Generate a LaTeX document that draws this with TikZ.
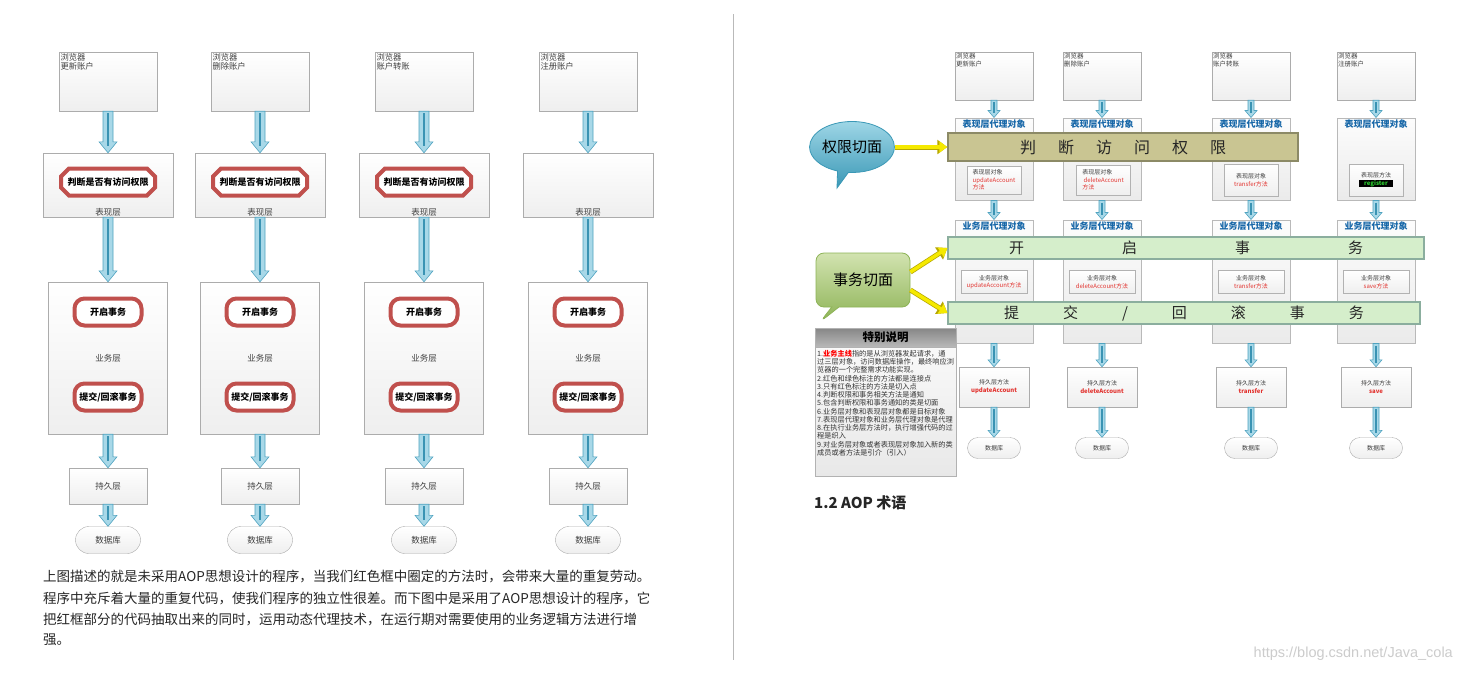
\documentclass[tikz,border=0pt]{standalone}
\usepackage{fontspec}
\setmainfont{Noto Sans CJK SC}
\newfontfamily\urlfont{Liberation Sans}
\usetikzlibrary{shapes.misc, shapes.callouts, arrows.meta, calc, positioning}

\definecolor{arrowfill}{HTML}{A8D8E8}
\definecolor{arrowedge}{HTML}{4FA3C0}
\definecolor{arrowcore}{HTML}{3A93B3}
\definecolor{aopred}{HTML}{C0504D}
\definecolor{txtred}{HTML}{E2332F}
\definecolor{regreen}{HTML}{2BD12F}
\definecolor{proxyblue}{HTML}{1767A8}
\definecolor{khaki}{HTML}{C9C592}
\definecolor{khakiedge}{HTML}{8C8A66}
\definecolor{mint}{HTML}{D5EECB}
\definecolor{mintedge}{HTML}{8BAE9E}
\definecolor{bubblelight}{HTML}{9ED6E6}
\definecolor{bubbledark}{HTML}{3A98B6}
\definecolor{leaflight}{HTML}{D2E3B0}
\definecolor{leafdark}{HTML}{8DB356}
\definecolor{arrowyellow}{HTML}{F5E900}
\definecolor{yellowedge}{HTML}{B7A800}

% fat blue arrow going down from one box to the next
\newcommand{\bluearrow}[5]{%
  \filldraw[fill=arrowfill, draw=arrowedge, line width=0.6pt]
    let \p1=(#1.south), \p2=(#2.north) in
    (\x1-#3,\y1) -- (\x1-#3,\y2+#5) -- (\x1-#4,\y2+#5) -- (\x1,\y2)
    -- (\x1+#4,\y2+#5) -- (\x1+#3,\y2+#5) -- (\x1+#3,\y1) -- cycle;
  \draw[arrowcore, line width=0.4*#3]
    let \p1=(#1.south), \p2=(#2.north) in
    (\x1,\y1-2pt) -- (\x1,\y2+0.6*#5);
}

\begin{document}
\begin{tikzpicture}[x=1pt, y=-1pt,
    layer/.style={rectangle, draw=gray!65, top color=white, bottom color=gray!13, inner sep=0pt, text=black!75, align=center, font=\fontsize{8.5}{10}\selectfont},
    redoct/.style={chamfered rectangle, chamfered rectangle xsep=8pt, draw=aopred, line width=4pt, fill=white, minimum width=94pt, minimum height=27pt, inner sep=0pt, font=\bfseries\fontsize{9}{10}\selectfont},
    redround/.style={rectangle, rounded corners=10pt, draw=aopred, line width=4pt, fill=white, minimum width=67pt, minimum height=27pt, inner sep=0pt, font=\bfseries\fontsize{9}{10}\selectfont},
    proxy/.style={rectangle, draw=gray!55, line width=1pt, top color=gray!2, bottom color=gray!16, minimum width=78pt, inner sep=0pt},
    proxylbl/.style={font=\bfseries\fontsize{9}{10}\selectfont, text=proxyblue, inner sep=1pt},
    objbox/.style={layer, draw=gray!60, line width=0.8pt, font=\fontsize{6}{7.5}\selectfont},
    khakiband/.style={rectangle, fill=khaki, draw=khakiedge, line width=1.5pt, inner sep=0pt, text=black!85, font=\fontsize{16}{18}\selectfont},
    mintband/.style={rectangle, fill=mint, draw=mintedge, line width=1.2pt, inner sep=0pt, text=black!85, font=\fontsize{15}{17}\selectfont},
    yarrow/.style={draw=arrowyellow, line width=3.5pt, -{Triangle[length=8pt,width=11pt]},
        preaction={draw=yellowedge, line width=5pt, -{Triangle[length=10pt,width=14pt]}}},
    caption/.style={anchor=west, inner sep=0pt, text=black!85, font=\fontsize{13.5}{16}\selectfont}
]
\fill[white] (0,0) rectangle (1458,672);
\useasboundingbox (0,0) rectangle (1458,672);

% left: without AOP
\foreach \i/\cx/\act in {1/108/更新账户, 2/260/删除账户, 3/424/账户转账, 4/588/注册账户} {
  \node[layer, minimum width=98pt, minimum height=59pt,
        label={[anchor=north west, inner sep=1.5pt, align=left, text=black!75, font=\fontsize{8.3}{9.5}\selectfont]north west:浏览器\\\act}]
        (lbrw\i) at (\cx,81.5) {};
  \node[layer, minimum width=130pt, minimum height=64pt,
        label={[anchor=south, inner sep=1pt, text=black!75, font=\fontsize{8.5}{10}\selectfont]south:表现层}]
        (lpres\i) at (\cx,185) {};
  \ifnum\i<4
    \node[redoct] (lchk\i) at (\cx,182) {判断是否有访问权限};
  \fi
  \node[layer, minimum width=119pt, minimum height=152pt] (lbiz\i) at (\cx,358) {业务层};
  \node[redround] (lbegin\i) at (\cx,312) {开启事务};
  \node[redround] (lend\i) at (\cx,397) {提交/回滚事务};
  \node[layer, minimum width=78pt, minimum height=36pt] (lper\i) at (\cx,486) {持久层};
  \node[layer, rounded rectangle, minimum width=65pt, minimum height=27pt] (ldb\i) at (\cx,540) {数据库};
  \bluearrow{lbrw\i}{lpres\i}{5pt}{9pt}{11pt}
  \bluearrow{lpres\i}{lbiz\i}{5pt}{9pt}{11pt}
  \bluearrow{lbiz\i}{lper\i}{5pt}{9pt}{11pt}
  \bluearrow{lper\i}{ldb\i}{5pt}{9pt}{11pt}
}

\node[caption] (cap1) at (43,576) {上图描述的就是未采用AOP思想设计的程序，当我们红色框中圈定的方法时，会带来大量的重复劳动。};
\node[caption] (cap2) at (43,598) {程序中充斥着大量的重复代码，使我们程序的独立性很差。而下图中是采用了AOP思想设计的程序，它};
\node[caption] (cap3) at (43,620) {把红框部分的代码抽取出来的同时，运用动态代理技术，在运行期对需要使用的业务逻辑方法进行增};
\node[caption] (cap4) at (43,640) {强。};

\draw[gray!55, line width=0.8pt] (733,14) -- (733,660);

% right: with AOP
\foreach \i/\cx/\act/\mth in {1/994/更新账户/updateAccount, 2/1102/删除账户/deleteAccount, 3/1251/账户转账/transfer, 4/1376/注册账户/save} {
  \node[layer, minimum width=78pt, minimum height=48pt,
        label={[anchor=north west, inner sep=1.2pt, align=left, text=black!75, font=\fontsize{6.5}{7.8}\selectfont]north west:浏览器\\\act}]
        (rbrw\i) at (\cx,76) {};
  \node[proxy, minimum height=82pt] (rpres\i) at (\cx,159) {};
  \node[proxylbl, below=1pt of rpres\i.north] (rpreslbl\i) {表现层代理对象};
  \node[proxy, minimum height=123pt] (rbizp\i) at (\cx,281.5) {};
  \node[proxylbl, below=1pt of rbizp\i.north] (rbizlbl\i) {业务层代理对象};
  \node[objbox, minimum width=66pt, minimum height=23pt] (rbobj\i) at (\cx,282) {业务层对象\\\textcolor{txtred}{{\mth}方法}};
  \node[layer, minimum width=70pt, minimum height=40pt, font=\fontsize{6}{8}\selectfont] (rper\i) at (\cx,387) {持久层方法\\\textbf{\textcolor{txtred}{\mth}}};
  \node[layer, rounded rectangle, minimum width=53pt, minimum height=21pt, font=\fontsize{6}{7}\selectfont] (rdb\i) at (\cx,448) {数据库};
  \bluearrow{rbrw\i}{rpres\i}{3pt}{6pt}{7pt}
  \bluearrow{rpres\i}{rbizp\i}{3pt}{6pt}{7pt}
  \bluearrow{rbizp\i}{rper\i}{3pt}{6pt}{7pt}
  \bluearrow{rper\i}{rdb\i}{3pt}{6pt}{7pt}
}

\node[objbox, minimum width=54pt, minimum height=28pt, align=left] (robj1) at (994,180) {表现层对象\\\textcolor{txtred}{updateAccount}\\\textcolor{txtred}{方法}};
\node[objbox, minimum width=54pt, minimum height=30pt, align=left] (robj2) at (1103,180) {表现层对象\\\textcolor{txtred}{\ deleteAccount}\\\textcolor{txtred}{方法}};
\node[objbox, minimum width=54pt, minimum height=32pt] (robj3) at (1251,180) {表现层对象\\\textcolor{txtred}{transfer方法}};
\node[objbox, minimum width=54pt, minimum height=32pt] (robj4) at (1376,180) {表现层方法\\{\fboxsep=0.6pt\colorbox{black}{\makebox[33pt]{\textbf{\textcolor{regreen}{register}}}}}};

% the aspects cut across the columns
\node[khakiband, minimum width=350pt, minimum height=28pt] (permband) at (1123,147)
  {判\hspace{22pt}断\hspace{22pt}访\hspace{22pt}问\hspace{22pt}权\hspace{22pt}限};
\node[mintband, minimum width=476pt, minimum height=22pt] (beginband) at (1186,248)
  {开\hspace{98pt}启\hspace{98pt}事\hspace{98pt}务};
\node[mintband, minimum width=472pt, minimum height=22pt] (commitband) at (1184,313)
  {提\hspace{44pt}交\hspace{44pt}/\hspace{44pt}回\hspace{44pt}滚\hspace{44pt}事\hspace{44pt}务};

\coordinate (permtip) at (837,188);
\node[ellipse callout, callout absolute pointer=(permtip), draw=bubbledark, line width=0.8pt,
      top color=bubblelight, bottom color=bubbledark, minimum width=75pt, minimum height=51pt,
      inner sep=0pt, font=\fontsize{15}{17}\selectfont] (permbub) at (852,147) {权限切面};
\coordinate (txtip) at (820,322);
\node[rectangle callout, rounded corners=8pt, callout absolute pointer=(txtip), draw=leafdark, line width=0.8pt,
      top color=leaflight, bottom color=leafdark, minimum width=94pt, minimum height=54pt,
      inner sep=0pt, font=\fontsize{15}{17}\selectfont] (txbub) at (863,280) {事务切面};

\draw[yarrow] (permbub.east) -- (permband.west);
\draw[yarrow] ([yshift=8pt]txbub.east) -- (beginband.west);
\draw[yarrow] ([yshift=-10pt]txbub.east) -- (commitband.west);

% notes
\node[rectangle, draw=gray!60, top color=gray!3, bottom color=gray!18, minimum width=141pt, minimum height=148pt] (notebox) at (885.5,402) {};
\node[rectangle, draw=gray!60, top color=gray!95, bottom color=gray!55, minimum width=141pt, minimum height=19pt,
      anchor=north, font=\bfseries\fontsize{11.5}{13}\selectfont] (notetitle) at (notebox.north) {特别说明};
\node[anchor=north west, align=left, inner sep=0pt, text=black!80, font=\fontsize{7.2}{8.25}\selectfont] (notetext) at (817,350)
  {1.\textcolor{red}{\textbf{业务主线}}指的是从浏览器发起请求，通\\
   过三层对象，访问数据库操作，最终响应浏\\
   览器的一个完整需求功能实现。\\
   2.红色和绿色标注的方法都是连接点\\
   3.只有红色标注的方法是切入点\\
   4.判断权限和事务相关方法是通知\\
   5.包含判断权限和事务通知的类是切面\\
   6.业务层对象和表现层对象都是目标对象\\
   7.表现层代理对象和业务层代理对象是代理\\
   8.在执行业务层方法时，执行增强代码的过\\
   程是织入\\
   9.对业务层对象或者表现层对象加入新的类\\
   成员或者方法是引介（引入）};

\node[anchor=west, inner sep=0pt, text=black!85, font=\bfseries\fontsize{15}{18}\selectfont] (sechead) at (814,503) {1.2 AOP 术语};
\node[anchor=east, inner sep=0pt, text=gray!40, font=\urlfont\fontsize{14.5}{16}\selectfont] (wmark) at (1453,654) {https://blog.csdn.net/Java\_cola};
\end{tikzpicture}
\end{document}
